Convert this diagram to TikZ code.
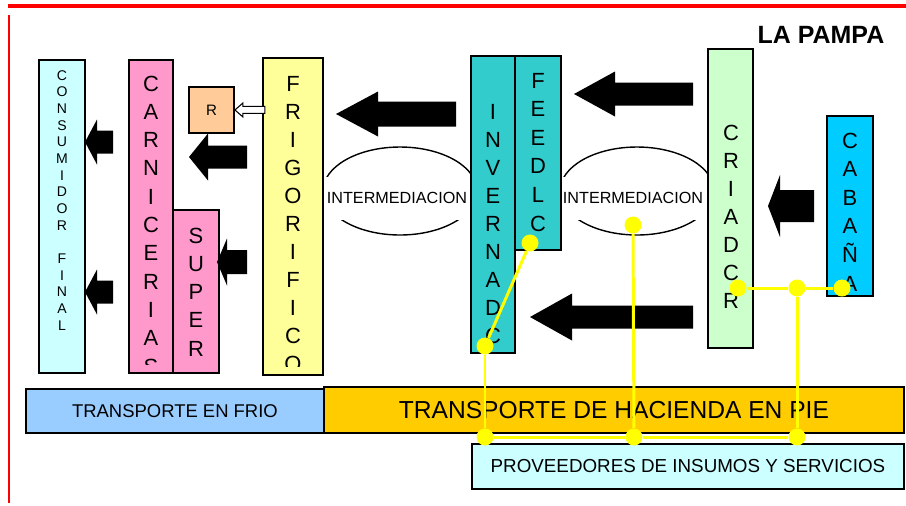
\documentclass[tikz,border=0pt]{standalone}
\usepackage{fontspec}
\setmainfont{Liberation Sans}
\usepackage{tikz}
\usetikzlibrary{calc,fit,positioning}
\usepackage{xcolor}
\definecolor{rojo}{HTML}{FF0000}
\definecolor{celeste}{HTML}{CCFFFF}
\definecolor{rosa}{HTML}{FF99CC}
\definecolor{salmon}{HTML}{FFCC99}
\definecolor{amarillito}{HTML}{FFFF99}
\definecolor{turquesa}{HTML}{33CCCC}
\definecolor{verdecito}{HTML}{CCFFCC}
\definecolor{cabanacol}{HTML}{00CCFF}
\definecolor{azulito}{HTML}{99CCFF}
\definecolor{naranja}{HTML}{FFCC00}
\definecolor{amarillo}{HTML}{FFFF00}
% flecha gruesa: punta x, y, cola x, base de la punta x, medio ancho cuerpo, medio ancho punta
\newcommand{\flecha}[6]{\fill[black] (#1,#2) -- (#4,{#2-#6}) -- (#4,{#2-#5}) -- (#3,{#2-#5}) -- (#3,{#2+#5}) -- (#4,{#2+#5}) -- (#4,{#2+#6}) -- cycle;}
% letras en columna: [estilo] nombre, x, primera base, paso, letras
\newcommand{\columna}[6][letra]{\foreach \l [count=\i from 0] in {#6} \node[#1] (#2-\i) at (#3,{#4+\i*#5}) {\l};}

\begin{document}
\begin{tikzpicture}[x=0.02cm, y=-0.02cm,
    caja/.style={draw=black, line width=1.1pt, inner sep=0pt},
    barra/.style={draw=black, line width=1.1pt, inner sep=0pt, anchor=north west},
    letra/.style={font=\fontsize{12.5}{12.5}\selectfont, inner sep=0pt, anchor=base},
    letrita/.style={font=\fontsize{8}{8}\selectfont, inner sep=0pt, anchor=base},
    punto/.style={circle, fill=amarillo, inner sep=0pt, minimum size=0.34cm},
    enlace/.style={draw=amarillo, line width=1.7pt}]
    \useasboundingbox (0,0) rectangle (906,505);

    % bordes rojos
    \draw[rojo, line width=1.9pt] (8,6) -- (906,6);
    \draw[rojo, line width=1.2pt] (9,15) -- (9,503);
    \node[font=\bfseries\fontsize{14.2}{14.2}\selectfont] (titulo) at (821,35) {LA PAMPA};

    % intermediacion
    \draw[line width=0.8pt] (400,191) ellipse [x radius=1.54cm, y radius=0.88cm];
    \draw[line width=0.8pt] (637,191) ellipse [x radius=1.54cm, y radius=0.88cm];
    \node[fill=white, inner sep=0pt, minimum width=2.96cm, minimum height=0.86cm, font=\fontsize{9.2}{9.2}\selectfont] (inter1) at (397,198) {INTERMEDIACION};
    \node[fill=white, inner sep=0pt, minimum width=2.96cm, minimum height=0.86cm, font=\fontsize{9.2}{9.2}\selectfont] (inter2) at (633,198) {INTERMEDIACION};

    % cajas de la cadena
    \node[caja, fill=celeste, fit={(39,60) (85,373)}] (consumidor) {};
    \node[caja, fill=rosa, fit={(129,60) (173,373)}] (carnicerias) {};
    \node[caja, fill=rosa, fit={(173,210) (219,373)}] (super) {};
    \node[barra, fill=salmon, minimum width=0.9cm, minimum height=0.92cm, font=\fontsize{8.6}{8.6}\selectfont] (r) at (188,86) {R};
    \node[caja, fill=amarillito, fit={(263,58) (323,375)}] (frigorifico) {};
    \node[caja, fill=turquesa, fit={(471,56) (515,353)}] (invernado) {};
    \node[caja, fill=turquesa, fit={(515,56) (561,250)}] (feedlot) {};
    \node[caja, fill=verdecito, fit={(708,49) (753,348)}] (criador) {};
    \node[caja, fill=cabanacol, fit={(827,116) (873,296)}] (cabana) {};

    \columna[letrita]{cons}{62}{80}{16.67}{C,O,N,S,U,M,I,D,O,R,{},F,I,N,A,L}
    \begin{scope}
        \clip (129,60) rectangle (173,364);
        \columna{carn}{151}{91}{28.3}{C,A,R,N,I,C,E,R,I,A,S}
    \end{scope}
    \columna{sup}{196}{243}{28.3}{S,U,P,E,R}
    \begin{scope}
        \clip (263,58) rectangle (323,366);
        \columna{frig}{293}{91}{28}{F,R,I,G,O,R,I,F,I,C,O}
    \end{scope}
    \columna{inv}{493}{119}{28}{I,N,V,E,R,N,A,D,C}
    \columna{feed}{538}{88}{28.6}{F,E,E,D,L,C}
    \columna{cria}{731}{140}{28}{C,R,I,A,D,C,R}
    \begin{scope}
        \clip (827,116) rectangle (873,291);
        \columna{cab}{850}{148}{28.6}{C,A,B,A,Ñ,A}
    \end{scope}

    % flechas
    \flecha{85}{142}{113}{97}{11.5}{22.5}
    \flecha{85}{292}{113}{97}{11.5}{22.5}
    \flecha{189}{157}{247}{208}{11.5}{23.5}
    \flecha{217}{262}{247}{227}{12}{23.5}
    \flecha{336}{114}{456}{378}{12.5}{22.5}
    \flecha{574}{94}{693}{615}{11.5}{22.5}
    \flecha{530}{317}{693}{572}{11.5}{23.5}
    \flecha{768}{206}{814}{780}{16}{31}
    \filldraw[fill=white, draw=black, line width=0.6pt] (r.east) -- ++(8,-7) -- ++(0,3.5) -- ++(22,0) -- ++(0,7) -- ++(-22,0) -- ++(0,3.5) -- cycle;

    % transporte y proveedores
    \node[barra, fill=azulito, minimum width=5.96cm, minimum height=0.88cm, font=\fontsize{10.5}{10.5}\selectfont] (frio) at (25,388) {TRANSPORTE EN FRIO};
    \node[barra, fill=naranja, minimum width=11.6cm, minimum height=0.92cm, font=\fontsize{14}{14}\selectfont] (hacienda) at (323,386) {TRANSPORTE DE HACIENDA EN PIE};
    \node[barra, fill=celeste, minimum width=8.64cm, minimum height=0.9cm, font=\fontsize{10.7}{10.7}\selectfont] (proveedores) at (471,443) {PROVEEDORES DE INSUMOS Y SERVICIOS};

    % red de proveedores
    \node[punto] (p1) at (530,243) {};
    \node[punto] (p2) at (485,346) {};
    \node[punto] (p3) at (633,225) {};
    \node[punto] (p4) at (738,288) {};
    \node[punto] (p5) at (797,288) {};
    \node[punto] (p6) at (842,288) {};
    \node[punto] (q1) at (485,437) {};
    \node[punto] (q2) at (634,437) {};
    \node[punto] (q3) at (797,437) {};
    \draw[enlace] (p1) -- (p2);
    \draw[enlace] (p2) -- (q1);
    \draw[enlace] (p3) -- (q2);
    \draw[enlace] (p4) -- (p5);
    \draw[enlace] (p5) -- (p6);
    \draw[enlace] (p5) -- (q3);
    \draw[enlace] (q1) -- (q2);
    \draw[enlace] (q2) -- (q3);
\end{tikzpicture}
\end{document}
